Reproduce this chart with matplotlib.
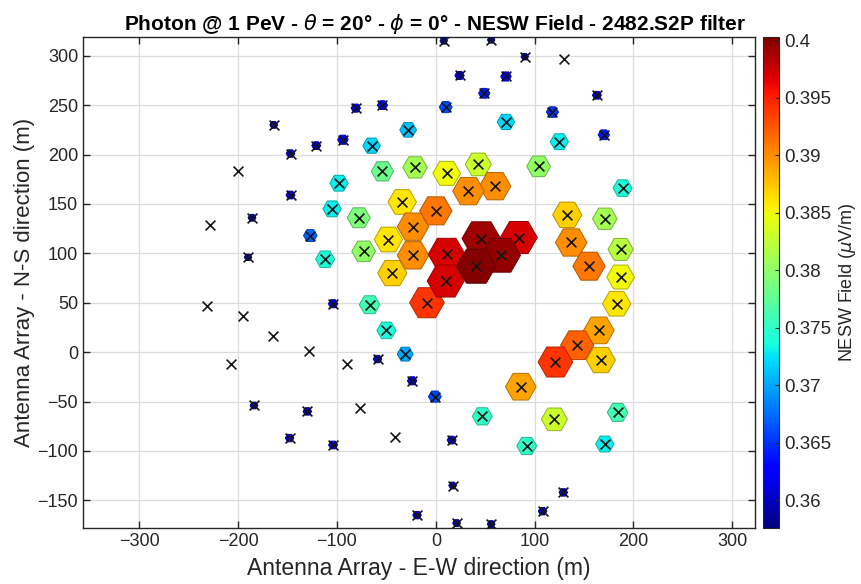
import numpy as np
import matplotlib
matplotlib.use('Agg')
from matplotlib import pyplot as plt
from matplotlib.colors import Normalize

plt.rcParams['font.family'] = ['Liberation Sans', 'DejaVu Sans']
plt.rcParams['mathtext.fontset'] = 'dejavusans'

# antenna positions (m) and NESW field (uV/m)
ew = [8, 56, 90, 130, 24, 71, 49, 163, -81, -54,
      10, 118, -28, 71, -164, -200, -147, -121, -94, -65,
      170, 125, -54, -21, 11, 43, 104, 189, -98, -147,
      -34, 33, 60, 0, -105, -78, 133, 171, -229, -186,
      -190, -127, -23, -48, 46, 84, 137, 187, -112, -73,
      -23, 11, 66, 41, 155, -44, 187, 10, -9, -104,
      -67, 183, -232, -195, -165, -50, 165, 143, 121, 167,
      -128, -207, -90, -59, -31, -24, -1, 86, -184, -130,
      -77, 47, 120, 184, -148, -104, -41, 16, 92, 171,
      17, 129, -19, 108, 21, 56]
ns = [315, 316, 299, 297, 280, 279, 262, 260, 247, 250,
      248, 243, 225, 233, 230, 183, 201, 209, 215, 209,
      220, 213, 183, 187, 181, 190, 188, 166, 171, 159,
      152, 163, 168, 143, 145, 136, 139, 135, 129, 136,
      96, 118, 127, 114, 115, 116, 111, 104, 94, 102,
      98, 99, 98, 87, 87, 80, 76, 72, 50, 49,
      48, 49, 47, 37, 16, 22, 22, 7, -10, -8,
      1, -12, -12, -7, -2, -29, -45, -35, -54, -60,
      -57, -65, -68, -61, -87, -94, -86, -89, -95, -93,
      -135, -142, -165, -161, -173, -174]
field = [0.359, 0.359, 0.359, 0.3578, 0.3615, 0.363, 0.364, 0.361, 0.3615, 0.3625,
         0.366, 0.365, 0.371, 0.372, 0.3595, 0.3578, 0.3605, 0.361, 0.363, 0.372,
         0.364, 0.373, 0.378, 0.381, 0.385, 0.383, 0.380, 0.374, 0.373, 0.361,
         0.386, 0.390, 0.390, 0.391, 0.373, 0.379, 0.387, 0.381, 0.3578, 0.3595,
         0.359, 0.367, 0.390, 0.386, 0.399, 0.397, 0.390, 0.382, 0.374, 0.380,
         0.390, 0.397, 0.3995, 0.400, 0.391, 0.387, 0.385, 0.397, 0.394, 0.3615,
         0.376, 0.386, 0.3578, 0.3578, 0.3578, 0.374, 0.389, 0.392, 0.394, 0.387,
         0.3578, 0.3578, 0.3578, 0.3605, 0.370, 0.3615, 0.366, 0.389, 0.3595, 0.3605,
         0.3578, 0.375, 0.383, 0.376, 0.3605, 0.361, 0.3578, 0.361, 0.375, 0.373,
         0.3595, 0.3605, 0.3605, 0.3605, 0.3595, 0.3595]

cticks = [0.36, 0.365, 0.37, 0.375, 0.38, 0.385, 0.39, 0.395, 0.4]
cticklabels = ['0.36', '0.365', '0.37', '0.375', '0.38', '0.385', '0.39', '0.395', '0.4']

ew = np.array(ew)
ns = np.array(ns)
field = np.array(field)
vmin, vmax = 0.3576, 0.4003

# hexagon width grows with the field, tiny ones hidden
d_px = np.where(field > 0.3583, 7 + 780 * (field - 0.3585), 0)
s = (d_px * 72 / 100) ** 2

order = np.argsort(field)
cmap = plt.get_cmap('jet')
norm = Normalize(vmin, vmax)
cols = cmap(norm(field))
edge = cols.copy()
edge[:, :3] *= 0.7

fig = plt.figure(figsize=(8.62, 5.84), dpi=100)
ax = fig.add_axes([0.0963, 0.0959, 0.7796, 0.8408])
cax = fig.add_axes([0.8852, 0.0959, 0.0186, 0.8408])

sc = ax.scatter(ew[order], ns[order], s=s[order], c=field[order], cmap=cmap, norm=norm,
                marker='H', edgecolors=edge[order], linewidths=0.7, zorder=3)
ax.scatter(ew, ns, s=50, marker='x', color='#151515', linewidths=1.2, zorder=4)

ax.set_xlim(-357, 323)
ax.set_ylim(-178, 319)
ax.set_xticks(np.arange(-300, 301, 100))
ax.set_yticks(np.arange(-150, 301, 50))
ax.grid(True, color='#dcdcdc', linewidth=0.9, zorder=0)
ax.set_axisbelow(True)
ax.tick_params(direction='in', length=5, width=1, labelsize=13, colors='#262626',
               top=True, right=True)
for sp in ax.spines.values():
    sp.set_color('#262626')
    sp.set_linewidth(1.0)

ax.set_title(r'Photon @ 1 PeV - $\theta$ = 20° - $\phi$ = 0° - NESW Field - 2482.S2P filter',
             fontsize=15, fontweight='bold', pad=5, x=0.524)
ax.set_xlabel('Antenna Array - E-W direction (m)', fontsize=16.5, color='#262626', labelpad=5)
ax.set_ylabel('Antenna Array - N-S direction (m)', fontsize=16, color='#262626', labelpad=2)

cb = fig.colorbar(sc, cax=cax)
cb.set_ticks(cticks)
cb.set_ticklabels(cticklabels)
cb.ax.tick_params(direction='in', length=3, labelsize=13.5, colors='#262626')
cb.outline.set_edgecolor('#262626')
cb.set_label(r'NESW Field ($\mu$V/m)', fontsize=13, color='#262626', labelpad=4)

fig.savefig('out.png', dpi=100)
